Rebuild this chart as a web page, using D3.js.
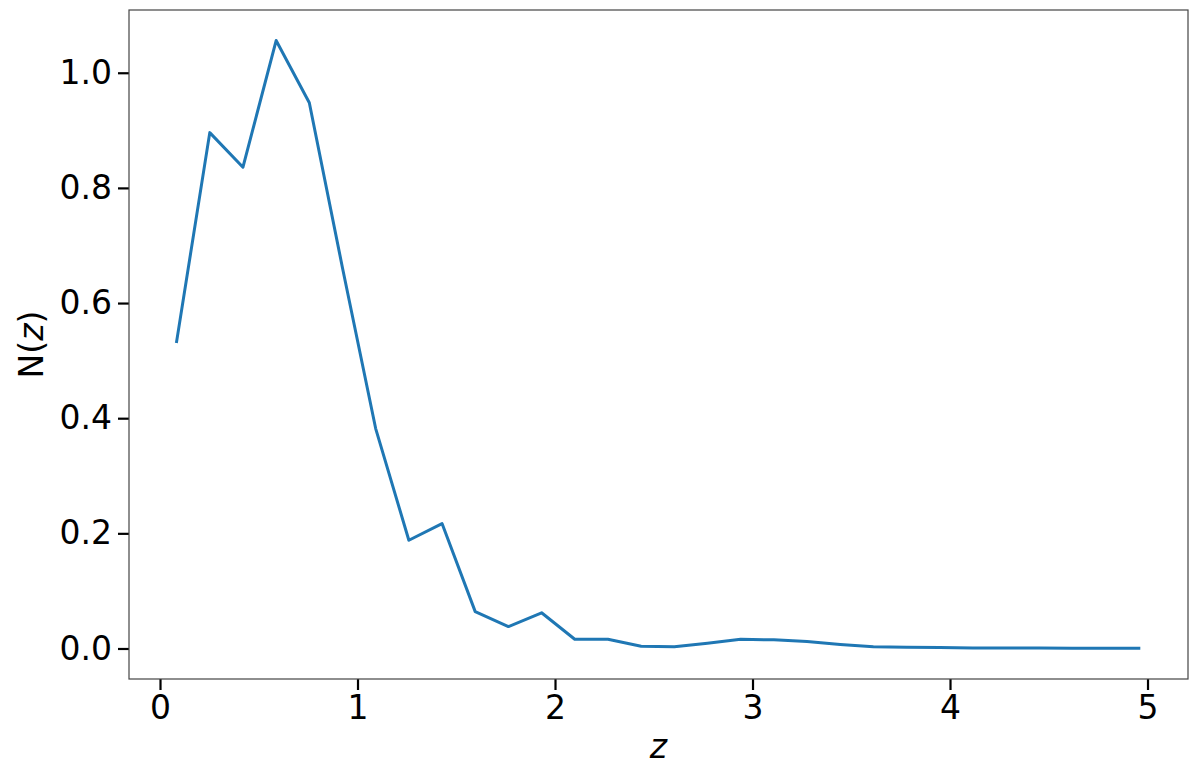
<!DOCTYPE html>
<html>
<head>
<meta charset="utf-8">
<script src="https://cdn.jsdelivr.net/npm/d3@7"></script>
<style>
  body { margin: 0; background: #fff; }
  svg { display: block; font-family: "DejaVu Sans", sans-serif; }
</style>
</head>
<body>
<script>
// redshift bin centres and N(z) values
const zValues = [0.084, 0.252, 0.420, 0.588, 0.756, 0.924, 1.092, 1.260, 1.428, 1.596,
                 1.764, 1.932, 2.100, 2.268, 2.436, 2.604, 2.772, 2.940, 3.108, 3.276,
                 3.444, 3.612, 3.780, 3.948, 4.116, 4.284, 4.452, 4.620, 4.788, 4.956];
const nzValues = [0.533, 0.896, 0.836, 1.056, 0.948, 0.661, 0.382, 0.188, 0.217, 0.064,
                  0.038, 0.062, 0.016, 0.016, 0.004, 0.003, 0.009, 0.016, 0.015, 0.012,
                  0.007, 0.003, 0.002, 0.0015, 0.001, 0.001, 0.0008, 0.0005, 0.0004, 0.0003];
const xTicks = [0, 1, 2, 3, 4, 5];
const yTicks = [0.0, 0.2, 0.4, 0.6, 0.8, 1.0];

const width = 1200, height = 765;
const margin = { top: 10, right: 12, bottom: 86, left: 129 };
const plotW = width - margin.left - margin.right;
const plotH = height - margin.top - margin.bottom;

const svg = d3.select("body").append("svg")
  .attr("width", width)
  .attr("height", height);

const g = svg.append("g")
  .attr("transform", `translate(${margin.left},${margin.top})`);

const x = d3.scaleLinear().domain([-0.157, 5.205]).range([0, plotW]);
const y = d3.scaleLinear().domain([-0.053, 1.109]).range([plotH, 0]);

// the curve
const data = zValues.map((z, i) => ({ z: z, n: nzValues[i] }));
g.append("path")
  .datum(data)
  .attr("fill", "none")
  .attr("stroke", "#1f77b4")
  .attr("stroke-width", 3)
  .attr("stroke-linejoin", "round")
  .attr("stroke-linecap", "square")
  .attr("d", d3.line().x(d => x(d.z)).y(d => y(d.n)));

// axes
const xAxis = g.append("g")
  .attr("transform", `translate(0,${plotH})`)
  .call(d3.axisBottom(x).tickValues(xTicks).tickFormat(d3.format("d")).tickSize(11).tickPadding(6));
const yAxis = g.append("g")
  .call(d3.axisLeft(y).tickValues(yTicks).tickFormat(d3.format(".1f")).tickSize(11).tickPadding(6));

[xAxis, yAxis].forEach(a => {
  a.select(".domain").remove();
  a.selectAll(".tick line").attr("stroke", "#000").attr("stroke-width", 2.2);
  a.selectAll(".tick text")
    .attr("fill", "#000")
    .style("font-size", "33px")
    .style("font-family", "'DejaVu Sans', sans-serif");
});

// frame
g.append("rect")
  .attr("width", plotW)
  .attr("height", plotH)
  .attr("fill", "none")
  .attr("stroke", "#444")
  .attr("stroke-width", 1.2);

// axis labels
svg.append("text")
  .attr("x", margin.left + plotW / 2)
  .attr("y", 758)
  .attr("text-anchor", "middle")
  .style("font-size", "33px")
  .style("font-style", "italic")
  .text("z");

svg.append("text")
  .attr("transform", `translate(43,${margin.top + plotH / 2}) rotate(-90)`)
  .attr("text-anchor", "middle")
  .style("font-size", "33px")
  .html('N(<tspan font-style="italic">z</tspan>)');
</script>
</body>
</html>
